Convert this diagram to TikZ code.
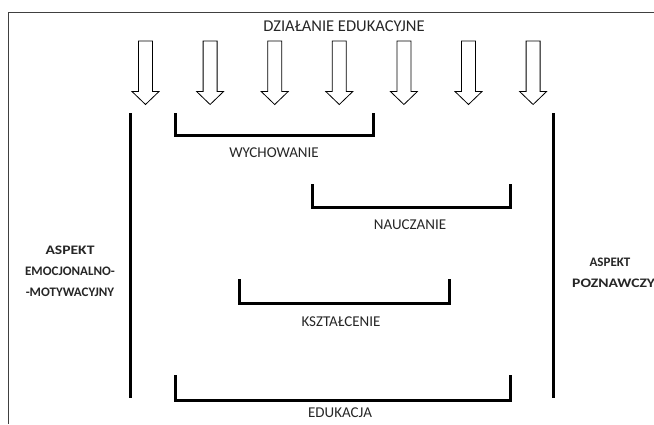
\documentclass[tikz,border=0pt]{standalone}
\usepackage{graphicx}
\usepackage{fontspec}
\setmainfont{Carlito}
\newcommand{\wide}[1]{\scalebox{1.2}[1]{#1}}
\begin{document}
\begin{tikzpicture}[x=1pt,y=-1pt,
  frame/.style={draw=black!75,line width=0.9pt},
  bar/.style={line width=3pt},
  bracket/.style={line width=3pt,line join=miter},
  downarrow/.style={draw=black,line width=0.8pt,fill=white,line join=miter},
  label/.style={font=\fontsize{15}{18}\selectfont,text=black!85,inner sep=0pt},
  aspect/.style={font=\fontsize{13}{21}\selectfont\bfseries,text=black!85,inner sep=0pt,align=center}]
\useasboundingbox (0,0) rectangle (654,424);
\begin{scope}
\clip (0,0) rectangle (654,424);
% outer frame: top and left edges
\draw[frame] (654,12) -- (8,12) -- (8,424);

\node[label,font=\fontsize{16.5}{18}\selectfont] (title) at (344,26) {DZIAŁANIE EDUKACYJNE};

% row of hollow downward arrows
\foreach \i in {0,...,6}{
  \pgfmathsetmacro{\cx}{145.5+64.6*\i}
  \draw[downarrow] (\cx-7,41) -- (\cx+7,41) -- (\cx+7,91.5) -- (\cx+13.5,91.5)
     -- (\cx,104.5) -- (\cx-13.5,91.5) -- (\cx-7,91.5) -- cycle;
}

% side bars
\coordinate (lt) at (130,113); \coordinate (lb) at (130,398);
\coordinate (rt) at (553,113); \coordinate (rb) at (553,398);
\draw[bar] (lt) -- (lb);
\draw[bar] (rt) -- (rb);

% brackets
\draw[bracket] (175,113) |- (373,135) -- (373,113);
\node[label] (wych) at (274,153) {WYCHOWANIE};
\draw[bracket] (312.5,184) |- (510,207.5) -- (510,184);
\node[label] (nauc) at (410,225) {NAUCZANIE};
\draw[bracket] (239,279) |- (449,303) -- (449,279);
\node[label] (kszt) at (341,322) {KSZTAŁCENIE};
\draw[bracket] (175,375) |- (510,400) -- (510,375);
\node[label] (eduk) at (340,413) {EDUKACJA};

% aspects
\node[aspect] (emo) at (70,271) {\wide{ASPEKT}\\EMOCJONALNO-\\-MOTYWACYJNY};
\node[aspect] (asp) at (610,262) {ASPEKT};
\node[aspect,anchor=west] (pozn) at (572,283) {\wide{POZNAWCZY}};
\end{scope}
\end{tikzpicture}
\end{document}
